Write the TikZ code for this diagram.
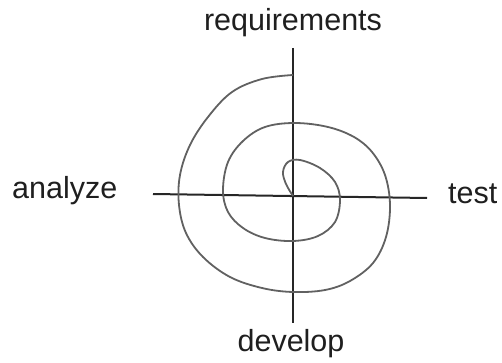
\documentclass[tikz,border=0pt]{standalone}
\usepackage{fontspec}
\setmainfont{Liberation Sans}

\begin{document}
\begin{tikzpicture}[x=1pt, y=-1pt,
  axis/.style = {line width=2pt, draw=black!85},
  spiral/.style = {line width=1.8pt, draw=black!62, line join=round},
  phase/.style = {font=\fontsize{30.5}{36}\selectfont, text=black!88, inner sep=0pt, anchor=base}]
  \useasboundingbox (0,0) rectangle (502,363);

  % Phase labels
  \node[phase] (req) at (293,31) {requirements};
  \node[phase, anchor=base west] (ana) at (12,198) {analyze};
  \node[phase, anchor=base west] (tst) at (448,203) {test};
  \node[phase] (dev) at (291,351) {develop};

  % Axis end points
  \coordinate (top) at (293,48);
  \coordinate (bot) at (293,323);
  \coordinate (lft) at (153,194);
  \coordinate (rgt) at (427,198);

  % Axes
  \draw[axis] (top) -- (bot);   % vertical
  \draw[axis] (lft) -- (rgt);   % horizontal

  % Spiral, from the outer end inwards
  \draw[spiral] plot[smooth, tension=0.6] coordinates {
    (293,75) (262,79) (232,92) (208,117) (190,145) (180,175) (179,205)
    (186,233) (203,257) (230,277) (262,288) (293,292) (325,290) (350,281)
    (373,263) (386,237) (390,205) (385,175) (372,152) (354,137) (328,127)
    (295,123) (265,127) (243,141) (228,162) (223,190) (228,212) (243,228)
    (265,238) (293,241) (318,236) (335,222) (340,200) (335,182) (320,168)
    (300,160) (288,162) (283,172) (286,184) (293,196)};
\end{tikzpicture}
\end{document}
